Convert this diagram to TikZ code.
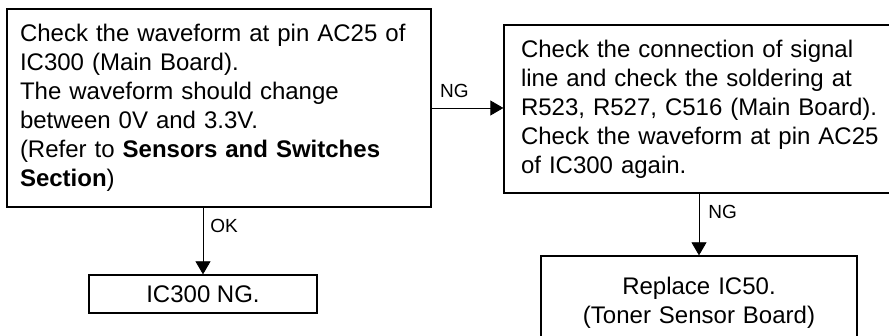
\documentclass[tikz,border=0pt]{standalone}
\usepackage{fontspec}
\setmainfont{Liberation Sans}
\usetikzlibrary{arrows.meta}

\begin{document}
\begin{tikzpicture}[x=1pt,y=1pt,
  box/.style={draw, line width=0.65pt, font=\fontsize{12}{14.5}\selectfont},
  flow/.style={line width=0.4pt, -{Triangle[length=6.5pt,width=7.5pt]}},
  lbl/.style={inner sep=0pt, font=\fontsize{9.5}{11}\selectfont}]
\useasboundingbox (0,0) rectangle (444.5,168);
\clip (0,0) rectangle (444.5,168);
% First check
\node[box, text width=199pt, inner xsep=6.5pt, minimum height=99pt, align=left] (check) at (109.5,114)
  {Check the waveform at pin AC25 of\\
   IC300 (Main Board).\\
   The waveform should change\\
   between 0V and 3.3V.\\
   (Refer to \textbf{Sensors and Switches}\\
   \textbf{Section})};
% Second check (runs past the right edge)
\node[box, text width=190pt, inner xsep=8.5pt, minimum height=84pt, align=left] (recheck) at (355.5,113.5)
  {Check the connection of signal\\
   line and check the soldering at\\
   R523, R527, C516 (Main Board).\\
   Check the waveform at pin AC25\\
   of IC300 again.};
% Results
\node[box, minimum width=114pt, minimum height=19pt, inner sep=0pt] (icng) at (101.5,21) {IC300 NG.};
\node[box, text width=158pt, minimum height=47pt, align=center, inner sep=0pt] (replace) at (349.5,16.5)
  {Replace IC50.\\(Toner Sensor Board)};
% Connectors
\draw[flow] (check.south -| icng.north) -- (icng.north)
  node[lbl, pos=0.28, anchor=west, xshift=3.5pt] {OK};
\draw[flow] (check.east) -- (check.east -| recheck.west)
  node[lbl, pos=0, anchor=south west, xshift=4pt, yshift=5pt] {NG};
\draw[flow] (recheck.south -| replace.north) -- (replace.north)
  node[lbl, pos=0.29, anchor=west, xshift=4.5pt] {NG};
\end{tikzpicture}
\end{document}
